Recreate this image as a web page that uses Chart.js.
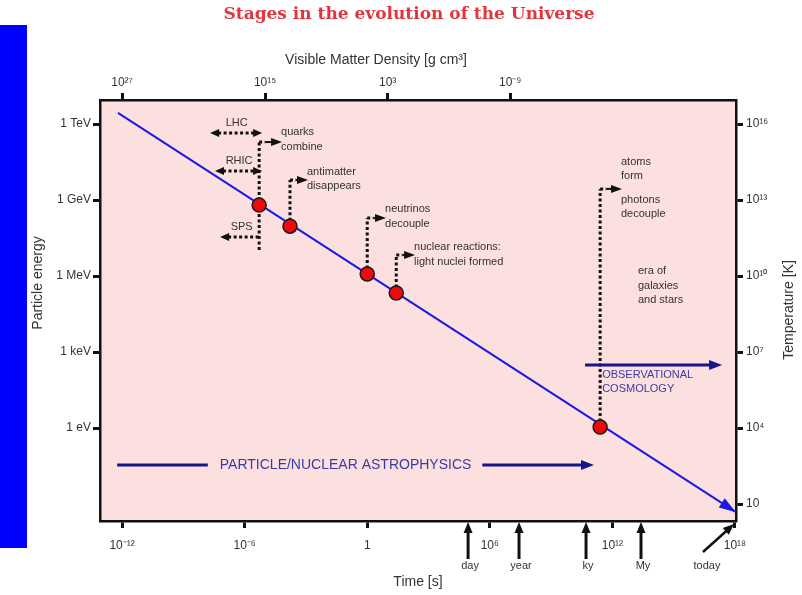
<!DOCTYPE html>
<html><head><meta charset="utf-8">
<script src="https://cdn.jsdelivr.net/npm/chart.js@4"></script>
<style>html,body{margin:0;padding:0;background:#fff}#wrap{width:802px;height:595px;position:relative}</style>
</head><body><div id="wrap"><canvas id="c" width="802" height="595"></canvas></div>
<script>
// Time axis [s]: tick values and labels
const timeTicks = [1e-12, 1e-6, 1, 1e6, 1e12, 1e18];
const timeTickLabels = ['10⁻¹²', '10⁻⁶', '1', '10⁶', '10¹²', '10¹⁸'];
// Visible matter density axis: epoch (s) at which each density is reached
const densityTickTimes = [1e-12, 1e-5, 1e1, 1e7];
const densityTickLabels = ['10²⁷', '10¹⁵', '10³', '10⁻⁹'];
// Particle energy axis [eV]
const energyTicks = [1e12, 1e9, 1e6, 1e3, 1];
const energyTickLabels = ['1 TeV', '1 GeV', '1 MeV', '1 keV', '1 eV'];
// Temperature axis [K]
const tempTicks = [1e16, 1e13, 1e10, 1e7, 1e4, 10];
const tempTickLabels = ['10¹⁶', '10¹³', '10¹⁰', '10⁷', '10⁴', '10'];

// Cooling track of the Universe: time [s] vs typical particle energy [eV]
const trackTime = [Math.pow(10, -12.2), Math.pow(10, 18.05)];
const trackEnergy = [Math.pow(10, 12.44), Math.pow(10, -3.32)];

// Key transitions
const eventTime = [Math.pow(10, -5.29), Math.pow(10, -3.78), Math.pow(10, 0.0), Math.pow(10, 1.42), Math.pow(10, 11.40)];
const eventEnergy = [Math.pow(10, 8.80), Math.pow(10, 7.97), Math.pow(10, 6.08), Math.pow(10, 5.33), Math.pow(10, 0.04)];

// Milestones marked under the time axis
const milestoneNames = ['day', 'year', 'ky', 'My', 'today'];
const milestoneTime = [86400, Math.pow(10, 7.43), Math.pow(10, 10.71), Math.pow(10, 13.40), 1e18];

// Collider reach in energy
const acceleratorNames = ['LHC', 'RHIC', 'SPS'];
const acceleratorEnergy = [Math.pow(10, 11.65), Math.pow(10, 10.15), Math.pow(10, 7.54)];
const acceleratorStart = [Math.pow(10, -7.69), Math.pow(10, -7.45), Math.pow(10, -7.2)];

const P = v => Math.pow(10, v);
const T_MIN = P(-13.08), T_MAX = P(18.05);
const E_MIN = P(-3.67), E_MAX = P(12.95);
const K_PER_EV = 1e4;

const SANS = '"Liberation Sans", Arial, sans-serif';
const TEXT = '#333';
const NAVY = '#16168c';
const NAVY_TEXT = '#3c3ca0';

// Leader lines from each transition up to its caption
const leaders = [
  { ev: 0, low: P(7.03), high: P(11.29), tip: P(-4.17), lines: [['quarks', -10], ['combine', 5]] },
  { ev: 1, high: P(9.79), tip: P(-2.9), lines: [['antimatter', -8], ['disappears', 6]] },
  { ev: 2, high: P(8.29), tip: P(0.92), lines: [['neutrinos', -9], ['decouple', 6]] },
  { ev: 3, high: P(6.83), tip: P(2.34), lines: [['nuclear reactions:', -8], ['light nuclei formed', 7]] },
  { ev: 4, high: P(9.44), tip: P(12.47), lines: [['atoms', -27], ['form', -13], ['photons', 11], ['decouple', 25]] }
];

function arrowHead(ctx, x, y, ang, len, half, color) {
  ctx.save();
  ctx.fillStyle = color;
  ctx.translate(x, y);
  ctx.rotate(ang);
  ctx.beginPath();
  ctx.moveTo(0, 0);
  ctx.lineTo(-len, -half);
  ctx.lineTo(-len, half);
  ctx.closePath();
  ctx.fill();
  ctx.restore();
}

function dotted(ctx, x1, y1, x2, y2) {
  ctx.save();
  ctx.strokeStyle = '#111';
  ctx.lineWidth = 3;
  ctx.setLineDash([3, 2.5]);
  ctx.beginPath();
  ctx.moveTo(x1, y1);
  ctx.lineTo(x2, y2);
  ctx.stroke();
  ctx.restore();
}

const decor = {
  id: 'decor',
  beforeDraw(chart) {
    const { ctx, chartArea: a } = chart;
    ctx.save();
    // side bar
    ctx.fillStyle = '#0000ff';
    ctx.fillRect(0, 25, 27, 523);
    // plot background
    ctx.fillStyle = '#fcdfdf';
    ctx.fillRect(a.left, a.top, a.right - a.left, a.bottom - a.top);
    // heading
    ctx.fillStyle = '#e2363e';
    ctx.font = 'bold 17px "DejaVu Serif", "Liberation Serif", serif';
    ctx.textAlign = 'center';
    ctx.textBaseline = 'middle';
    ctx.fillText('Stages in the evolution of the Universe', 409, 15);
    // axis titles
    ctx.fillStyle = TEXT;
    ctx.font = '14px ' + SANS;
    ctx.fillText('Visible Matter Density [g cm³]', 376, 60);
    ctx.translate(38, 283);
    ctx.rotate(-Math.PI / 2);
    ctx.fillText('Particle energy', 0, 0);
    ctx.restore();
  },
  beforeDatasetsDraw(chart) {
    const { ctx } = chart;
    const x = chart.scales.x, y = chart.scales.y;
    ctx.save();
    ctx.font = '11px ' + SANS;
    ctx.fillStyle = TEXT;
    ctx.textBaseline = 'middle';

    // leader lines and captions
    leaders.forEach(L => {
      const px = x.getPixelForValue(eventTime[L.ev]);
      const yLow = y.getPixelForValue(L.low !== undefined ? L.low : eventEnergy[L.ev]);
      const yHigh = y.getPixelForValue(L.high);
      const tip = x.getPixelForValue(L.tip);
      dotted(ctx, px, yLow, px, yHigh);
      dotted(ctx, px, yHigh, px + 6, yHigh);
      ctx.save();
      ctx.strokeStyle = '#111';
      ctx.lineWidth = 2;
      ctx.beginPath();
      ctx.moveTo(px + 6, yHigh);
      ctx.lineTo(tip - 6, yHigh);
      ctx.stroke();
      ctx.restore();
      arrowHead(ctx, tip, yHigh, 0, 11, 4, '#111');
      ctx.textAlign = 'left';
      L.lines.forEach(([t, dy]) => ctx.fillText(t, tip - 1, yHigh + dy));
    });

    // era caption
    const eraX = x.getPixelForValue(P(13.25));
    ctx.fillText('era of', eraX, y.getPixelForValue(P(6.2)));
    ctx.fillText('galaxies', eraX, y.getPixelForValue(P(5.6)));
    ctx.fillText('and stars', eraX, y.getPixelForValue(P(5.05)));

    // collider reach arrows
    const qx = x.getPixelForValue(eventTime[0]);
    acceleratorNames.forEach((n, i) => {
      const ay = y.getPixelForValue(acceleratorEnergy[i]);
      const ax = x.getPixelForValue(acceleratorStart[i]);
      const bx = i < 2 ? qx + 3 : qx;
      dotted(ctx, ax + 8, ay, bx - (i < 2 ? 8 : 0), ay);
      arrowHead(ctx, ax, ay, Math.PI, 9, 4, '#111');
      if (i < 2) arrowHead(ctx, bx, ay, 0, 9, 4, '#111');
      ctx.textAlign = 'center';
      ctx.fillText(n, (ax + qx) / 2 + 2, ay - 10);
    });

    // particle/nuclear astrophysics range
    const pY = y.getPixelForValue(P(-1.46));
    const pA = x.getPixelForValue(P(-12.24)), pB = x.getPixelForValue(P(11.10));
    ctx.font = '14px ' + SANS;
    const label = 'PARTICLE/NUCLEAR ASTROPHYSICS';
    const w = ctx.measureText(label).width;
    const mid = (pA + pB) / 2 - 10;
    ctx.strokeStyle = NAVY;
    ctx.lineWidth = 3;
    ctx.beginPath();
    ctx.moveTo(pA, pY); ctx.lineTo(mid - w / 2 - 12, pY);
    ctx.moveTo(mid + w / 2 + 11, pY); ctx.lineTo(pB - 8, pY);
    ctx.stroke();
    arrowHead(ctx, pB, pY, 0, 13, 5, NAVY);
    ctx.fillStyle = NAVY_TEXT;
    ctx.textAlign = 'center';
    ctx.fillText(label, mid, pY);

    // observational cosmology range
    const oY = y.getPixelForValue(P(2.49));
    const oA = x.getPixelForValue(P(10.66)), oB = x.getPixelForValue(P(17.37));
    ctx.beginPath();
    ctx.moveTo(oA, oY); ctx.lineTo(oB - 8, oY);
    ctx.stroke();
    arrowHead(ctx, oB, oY, 0, 13, 5, NAVY);
    ctx.font = '11px ' + SANS;
    ctx.textAlign = 'left';
    ctx.fillText('OBSERVATIONAL', x.getPixelForValue(eventTime[4]) + 2, oY + 10);
    ctx.fillText('COSMOLOGY', x.getPixelForValue(eventTime[4]) + 2, oY + 24);
    ctx.restore();
  },
  afterDatasetsDraw(chart) {
    const { ctx } = chart;
    const x = chart.scales.x, y = chart.scales.y;
    // arrowhead at the end of the cooling track
    const x0 = x.getPixelForValue(trackTime[0]), y0 = y.getPixelForValue(trackEnergy[0]);
    const x1 = x.getPixelForValue(trackTime[1]), y1 = y.getPixelForValue(trackEnergy[1]);
    arrowHead(ctx, x1, y1, Math.atan2(y1 - y0, x1 - x0), 17, 5.5, '#1a1ae6');
  },
  afterDraw(chart) {
    const { ctx, chartArea: a } = chart;
    const x = chart.scales.x;
    ctx.save();
    ctx.strokeStyle = '#111';
    ctx.fillStyle = '#111';
    ctx.lineWidth = 3;
    ctx.font = '11px ' + SANS;
    ctx.textAlign = 'center';
    ctx.textBaseline = 'middle';
    milestoneNames.forEach((n, i) => {
      const mx = x.getPixelForValue(milestoneTime[i]);
      if (n === 'today') {
        const sx = mx - 32, sy = a.bottom + 31;
        const ex = mx - 1, ey = a.bottom + 3;
        ctx.lineWidth = 2.5;
        ctx.beginPath(); ctx.moveTo(sx, sy); ctx.lineTo(ex - 6, ey + 5.5); ctx.stroke();
        arrowHead(ctx, ex, ey, Math.atan2(ey - sy, ex - sx), 11, 4.5, '#111');
        ctx.fillStyle = TEXT;
        ctx.fillText(n, sx + 4, a.bottom + 45);
        ctx.fillStyle = '#111';
      } else {
        ctx.lineWidth = 3;
        ctx.beginPath(); ctx.moveTo(mx, a.bottom + 38); ctx.lineTo(mx, a.bottom + 10); ctx.stroke();
        arrowHead(ctx, mx, a.bottom + 1, -Math.PI / 2, 11, 4.5, '#111');
        ctx.fillStyle = TEXT;
        ctx.fillText(n, mx + 2, a.bottom + 45);
        ctx.fillStyle = '#111';
      }
    });
    // temperature axis title (reads bottom to top)
    ctx.save();
    ctx.translate(789, 310);
    ctx.rotate(-Math.PI / 2);
    ctx.font = '14px ' + SANS;
    ctx.fillStyle = TEXT;
    ctx.fillText('Temperature [K]', 0, 0);
    ctx.restore();
    ctx.restore();
  }
};

function fixedTicks(values) {
  return scale => { scale.ticks = values.map(v => ({ value: v })); };
}
function labelFor(values, labels) {
  return v => {
    const i = values.findIndex(t => Math.abs(Math.log10(t) - Math.log10(v)) < 1e-6);
    return i >= 0 ? labels[i] : '';
  };
}
const tickGrid = { drawOnChartArea: false, drawTicks: true, tickLength: 7, tickWidth: 3, tickColor: '#111' };
const axisBorder = { display: true, color: '#111', width: 2.5 };
const tickFont = { family: SANS, size: 12 };

new Chart(document.getElementById('c'), {
  type: 'scatter',
  data: {
    datasets: [
      {
        data: trackTime.map((t, i) => ({ x: t, y: trackEnergy[i] })),
        showLine: true, borderColor: '#1a1ae6', borderWidth: 2, pointRadius: 0, order: 2, clip: false
      },
      {
        data: eventTime.map((t, i) => ({ x: t, y: eventEnergy[i] })),
        pointRadius: 7, pointBackgroundColor: '#ee0a0a', pointBorderColor: '#1a1a1a', pointBorderWidth: 1.5, order: 1
      }
    ]
  },
  options: {
    responsive: false, animation: false, devicePixelRatio: 1,
    layout: { padding: { top: 40 } },
    plugins: { legend: { display: false }, tooltip: { enabled: false }, title: { display: false } },
    scales: {
      x: {
        type: 'logarithmic', position: 'bottom', min: T_MIN, max: T_MAX,
        afterBuildTicks: fixedTicks(timeTicks),
        afterFit: s => { s.height = 74; },
        ticks: { callback: labelFor(timeTicks, timeTickLabels), autoSkip: false, maxRotation: 0, color: TEXT, font: tickFont, padding: 10 },
        grid: tickGrid, border: axisBorder,
        title: { display: true, text: 'Time [s]', color: TEXT, font: { family: SANS, size: 14 }, padding: { top: 0, bottom: 4 } }
      },
      x2: {
        type: 'logarithmic', position: 'top', min: T_MIN, max: T_MAX,
        afterBuildTicks: fixedTicks(densityTickTimes),
        afterFit: s => { s.height = 60; },
        ticks: { callback: labelFor(densityTickTimes, densityTickLabels), autoSkip: false, maxRotation: 0, color: TEXT, font: tickFont, padding: 3 },
        grid: tickGrid, border: axisBorder
      },
      y: {
        type: 'logarithmic', position: 'left', min: E_MIN, max: E_MAX,
        afterBuildTicks: fixedTicks(energyTicks),
        afterFit: s => { s.width = 100; },
        ticks: { callback: labelFor(energyTicks, energyTickLabels), autoSkip: false, color: TEXT, font: tickFont, padding: 2 },
        grid: tickGrid, border: axisBorder
      },
      yT: {
        type: 'logarithmic', position: 'right', min: E_MIN * K_PER_EV, max: E_MAX * K_PER_EV,
        afterBuildTicks: fixedTicks(tempTicks),
        afterFit: s => { s.width = 66; },
        ticks: { callback: labelFor(tempTicks, tempTickLabels), autoSkip: false, color: TEXT, font: tickFont, padding: 3 },
        grid: tickGrid, border: axisBorder
      }
    }
  },
  plugins: [decor]
});
</script>
</body></html>
